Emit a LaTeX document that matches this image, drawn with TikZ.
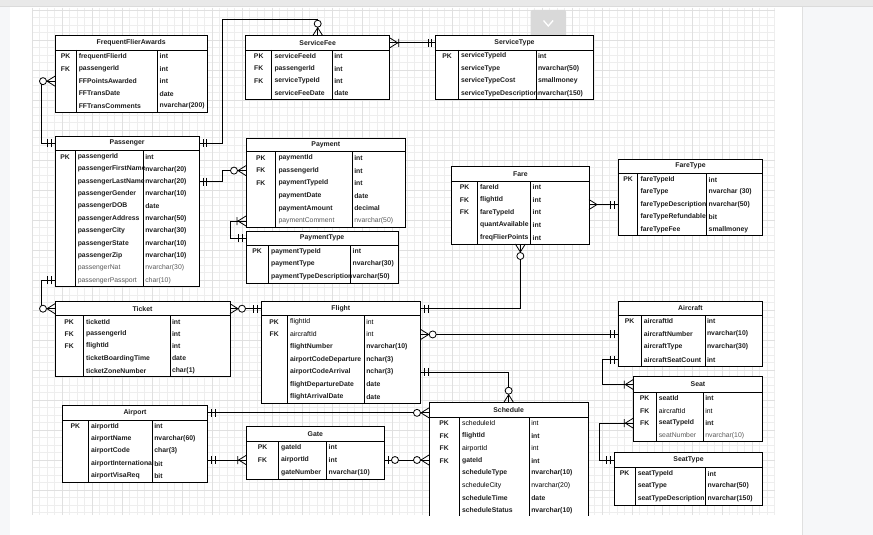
\documentclass[tikz,border=0pt]{standalone}
\usepackage{fontspec}
\setmainfont{Liberation Sans}
\usetikzlibrary{calc}

\definecolor{gridminor}{HTML}{EEEEEE}
\definecolor{gridmajor}{HTML}{E0E0E0}
\definecolor{pagegray}{HTML}{F6F7F9}
\definecolor{topbar}{HTML}{E9E9E9}
\definecolor{txtgray}{HTML}{5A5A5A}
\definecolor{txtdark}{HTML}{1E1E1E}
\definecolor{btngray}{HTML}{D9D9D9}

\tikzset{
  tframe/.style={draw=black, line width=0.8pt, inner sep=0pt, outer sep=0pt, fill=white},
  tline/.style={black, line width=0.8pt},
  hdbox/.style={inner sep=0pt, outer sep=0pt, font=\fontsize{6.9}{8}\selectfont\bfseries, text=txtdark},
  rowbox/.style={inner sep=0pt, outer sep=0pt},
  keytxt/.style={inner sep=0pt, font=\fontsize{6.8}{8}\selectfont\bfseries, text=txtdark},
  fb/.style={inner sep=0pt, anchor=west, font=\fontsize{6.85}{8}\selectfont\bfseries, text=txtdark},
  fr/.style={inner sep=0pt, anchor=west, font=\fontsize{6.85}{8}\selectfont, text=black},
  fg/.style={inner sep=0pt, anchor=west, font=\fontsize{6.85}{8}\selectfont, text=txtgray},
  conn/.style={line width=0.8pt, black},
  mk/.style={line width=0.8pt, black},
  pics/mandone/.style={code={\draw[mk] (4,-4)--(4,4) (7.5,-4)--(7.5,4);}},
  pics/many/.style={code={\draw[mk] (0,-5)--(8,0)--(0,5);}},
  pics/zmany/.style={code={\draw[mk] (0,-5)--(8,0)--(0,5); \draw[mk,fill=white] (12,0) circle[radius=3.5];}},
  pics/omany/.style={code={\draw[mk] (0,-5)--(8,0)--(0,5) (9,-4)--(9,4);}},
  pics/zone/.style={code={\draw[mk] (4,-4)--(4,4); \draw[mk,fill=white] (11,0) circle[radius=3.5];}},
}

% table: name, x, y, width, col1, col2, header height, row height, title ; then rows
\newcommand\ertab[9]{%
  \def\tn{#1}\def\tx{#2}\def\tyy{#3}\def\tw{#4}\def\ca{#5}\def\cb{#6}\def\hh{#7}\def\rh{#8}\def\ttl{#9}\ertabrows}
\newcommand\ertabrows[1]{%
  \foreach \rk/\rf/\rt/\rs [count=\ri] in {#1}{\xdef\nrows{\ri}}%
  \pgfmathsetmacro\tht{\hh+\nrows*\rh}%
  \node[tframe, minimum width=\tw pt, minimum height=\tht pt, anchor=north west] (\tn) at (\tx,\tyy) {};
  \node[hdbox, minimum width=\tw pt, minimum height=\hh pt, anchor=north west] (\tn-h) at (\tx,\tyy) {\ttl};
  \foreach \rk/\rf/\rt/\rs [count=\ri] in {#1}{%
    \node[rowbox, minimum width=\tw pt, minimum height=\rh pt, anchor=north west] (\tn-r\ri) at (\tx, {\tyy+\hh+(\ri-1)*\rh}) {};
    \node[keytxt] at (\tx+\ca/2, {\tyy+\hh+(\ri-0.5)*\rh}) {\rk};
    \node[\rs] at (\tx+\ca+2.6, {\tyy+\hh+(\ri-0.5)*\rh}) {\rf};
    \node[\rs] at (\tx+\cb+1.8, {\tyy+\hh+(\ri-0.5)*\rh}) {\rt};
  }
  \draw[tline] (\tx,\tyy+\hh) -- ++(\tw,0);
  \draw[tline] (\tx+\ca,\tyy+\hh) -- ++(0,\tht-\hh);
  \draw[tline] (\tx+\cb,\tyy+\hh) -- ++(0,\tht-\hh);
  \draw[tline] (\tn.north west) rectangle (\tn.south east);
}

\begin{document}
\begin{tikzpicture}[x=1pt,y=-1pt]
\useasboundingbox (0,0) rectangle (873,535);
% page background
\fill[pagegray] (0,0) rectangle (873,535);
\fill[white] (10,7) rectangle (802,535);
\draw[black!12, line width=0.8pt] (802,7) -- (802,535);
% grid
\foreach \gx in {32,39.5,...,775} \draw[gridminor,line width=0.4pt] (\gx,8) -- (\gx,515);
\foreach \gy in {10,17.5,...,516} \draw[gridminor,line width=0.4pt] (32,\gy) -- (775,\gy);
\foreach \gx in {32,62,...,775} \draw[gridmajor,line width=0.45pt] (\gx,8) -- (\gx,515);
\foreach \gy in {10,40,...,516} \draw[gridmajor,line width=0.45pt] (32,\gy) -- (775,\gy);
\fill[topbar] (0,0) rectangle (873,6);
\draw[black!14, line width=0.6pt] (0,6.3) -- (873,6.3);
% collapse button
\fill[btngray, rounded corners=2pt] (530.6,10) rectangle (566,37.7);
\draw[white, line width=1.3pt] (543.5,20.5) -- (548.3,26) -- (553.1,20.5);

\begin{scope}
\clip (10,7) rectangle (802,515);

\ertab{ffa}{55}{35.7}{152.3}{21}{102.7}{14.3}{12.46}{FrequentFlierAwards}{
  PK/frequentFlierId/int/fb, FK/passengerId/int/fb, {}/FFPointsAwarded/int/fb,
  {}/FFTransDate/date/fb, {}/FFTransComments/nvarchar(200)/fb}

\ertab{sfe}{245.7}{35.7}{144}{26}{86.6}{14.3}{12.4}{ServiceFee}{
  PK/serviceFeeId/int/fb, FK/passengerId/int/fb, FK/serviceTypeId/int/fb,
  {}/serviceFeeDate/date/fb}

\ertab{stp}{435.7}{35.7}{157.6}{22.6}{100.3}{14.3}{12.4}{ServiceType}{
  PK/serviceTypeId/int/fb, {}/serviceType/nvarchar(50)/fb, {}/serviceTypeCost/smallmoney/fb,
  {}/serviceTypeDescription/nvarchar(150)/fb}

\ertab{pas}{55}{136}{144.3}{20}{88.3}{14.7}{12.36}{Passenger}{
  PK/passengerId/int/fb, {}/passengerFirstName/nvarchar(20)/fb, {}/passengerLastName/nvarchar(20)/fb,
  {}/passengerGender/nvarchar(10)/fb, {}/passengerDOB/date/fb, {}/passengerAddress/nvarchar(50)/fb,
  {}/passengerCity/nvarchar(30)/fb, {}/passengerState/nvarchar(10)/fb, {}/passengerZip/nvarchar(10)/fb,
  {}/passengerNat/nvarchar(30)/fg, {}/passengerPassport/char(10)/fg}

\ertab{pay}{246}{138.3}{159.7}{29.7}{106.3}{13.4}{12.6}{Payment}{
  PK/paymentId/int/fb, FK/passengerId/int/fb, FK/paymentTypeId/int/fb,
  {}/paymentDate/date/fb, {}/paymentAmount/decimal/fb, {}/paymentComment/nvarchar(50)/fg}

\ertab{pyt}{246}{231}{152.3}{22.3}{104.7}{14}{12.8}{PaymentType}{
  PK/paymentTypeId/int/fb, {}/paymentType/nvarchar(30)/fb, {}/paymentTypeDescription/varchar(50)/fb}

\ertab{far}{451.7}{166.7}{137.3}{25.6}{79}{14.3}{12.6}{Fare}{
  PK/fareId/int/fb, FK/flightId/int/fb, FK/fareTypeId/int/fb,
  {}/quantAvailable/int/fb, {}/freqFlierPoints/int/fb}

\ertab{ftp}{618.3}{159}{144.4}{19.4}{88.4}{14.3}{12.5}{FareType}{
  PK/fareTypeId/int/fb, {}/fareType/nvarchar (30)/fb, {}/fareTypeDescription/nvarchar(50)/fb,
  {}/fareTypeRefundable/bit/fb, {}/fareTypeFee/smallmoney/fb}

\ertab{tic}{55}{301.7}{175}{28.3}{115}{14}{12.2}{Ticket}{
  PK/ticketId/int/fb, FK/passengerId/int/fb, FK/flightId/int/fb,
  {}/ticketBoardingTime/date/fb, {}/ticketZoneNumber/char(1)/fb}

\ertab{flt}{261}{301.7}{159.7}{26.3}{103.3}{14}{12.5}{Flight}{
  PK/flightId/int/fr, FK/aircraftId/int/fr, {}/flightNumber/nvarchar(10)/fb,
  {}/airportCodeDeparture/nchar(3)/fb, {}/airportCodeArrival/nchar(3)/fb,
  {}/flightDepartureDate/date/fb, {}/flightArrivalDate/date/fb}

\ertab{acf}{618.3}{301}{144.4}{22.7}{86.7}{14}{12.75}{Aircraft}{
  PK/aircraftId/int/fb, {}/aircraftNumber/nvarchar(10)/fb, {}/aircraftType/nvarchar(30)/fb,
  {}/aircraftSeatCount/int/fb}

\ertab{sea}{633.3}{376.7}{129.4}{22.7}{70}{15.6}{12.35}{Seat}{
  PK/seatId/int/fb, FK/aircraftId/int/fr, FK/seatTypeId/int/fb, {}/seatNumber/nvarchar(10)/fg}

\ertab{sty}{614.3}{452.7}{148.4}{20.7}{91.4}{14.6}{12.6}{SeatType}{
  PK/seatTypeId/int/fb, {}/seatType/nvarchar(50)/fb, {}/seatTypeDescription/nvarchar(150)/fb}

\ertab{apt}{62.3}{405.7}{145.4}{26}{90}{14.3}{12.46}{Airport}{
  PK/airportId/int/fb, {}/airportName/nvarchar(60)/fb, {}/airportCode/char(3)/fb,
  {}/airportInternational/bit/fb, {}/airportVisaReq/bit/fb}

\ertab{gat}{246.7}{426.7}{137.3}{31.6}{80}{14.3}{12.67}{Gate}{
  PK/gateId/int/fb, FK/airportId/int/fb, {}/gateNumber/nvarchar(10)/fb}

\ertab{sch}{429}{402.7}{159.3}{30.3}{100.3}{14.6}{12.4}{Schedule}{
  PK/scheduleId/int/fr, FK/flightId/int/fb, FK/airportId/int/fr, FK/gateId/int/fb,
  {}/scheduleType/nvarchar(10)/fb, {}/scheduleCity/nvarchar(20)/fr, {}/scheduleTime/date/fb,
  {}/scheduleStatus/nvarchar(10)/fb}

% connectors
\coordinate (sfjog) at (222.7,19.3);
\draw[conn] (ffa-r3.west) -- ++(-14,0) |- (pas-h.west);
\draw[conn] (pas-r11.west) -- ++(-14,0) |- (tic-h.west);
\draw[conn] (pas-h.east) -| (sfjog) -| (sfe.north);
\draw[conn] (sfe-h.east) -- (stp-h.west);
\draw[conn] (pas-r3.east) -| ($(pas-r3.east)!.5!(pay-r2.west)$) |- (pay-r2.west);
\draw[conn] (pay-r6.west) -- ++(-16,0) |- (pyt-h.west);
\draw[conn] (far.east |- ftp-r3.west) -- (ftp-r3.west);
\draw[conn] (far.south) |- (flt-h.east);
\draw[conn] (tic-h.east) -- (flt-h.west);
\draw[conn] (flt-r2.east) -- (flt-r2.east -| acf.west);
\draw[conn] (flt-r5.east) -| (sch.north);
\draw[conn] (acf-r4.west) -- ++(-15.6,0) |- (sea-h.west);
\draw[conn] (sea-r3.west) -- ++(-34,0) |- (sty-h.west);
\draw[conn] (apt-h.east) -- (apt-h.east -| sch.west);
\draw[conn] (apt.east |- gat-r2.west) -- (gat-r2.west);
\draw[conn] (gat-r2.east) -- (gat-r2.east -| sch.west);

% end markers
\pic[rotate=180] at (ffa-r3.west) {zmany};
\pic[rotate=180] at (pas-h.west) {mandone};
\pic[rotate=180] at (pas-r11.west) {mandone};
\pic[rotate=180] at (tic-h.west) {zmany};
\pic at (pas-h.east) {mandone};
\pic[rotate=90] at (sfe.north) {zmany};
\pic at (sfe-h.east) {omany};
\pic[rotate=180] at (stp-h.west) {mandone};
\pic at (pas-r3.east) {mandone};
\pic[rotate=180] at (pay-r2.west) {zmany};
\pic[rotate=180] at (pay-r6.west) {omany};
\pic[rotate=180] at (pyt-h.west) {mandone};
\pic at (far.east |- ftp-r3.west) {many};
\pic[rotate=180] at (ftp-r3.west) {mandone};
\pic[rotate=-90] at (far.south) {zmany};
\pic at (flt-h.east) {mandone};
\pic at (tic-h.east) {zmany};
\pic[rotate=180] at (flt-h.west) {mandone};
\pic at (flt-r2.east) {zmany};
\pic[rotate=180] at (flt-r2.east -| acf.west) {mandone};
\pic at (flt-r5.east) {mandone};
\pic[rotate=90] at (sch.north) {zmany};
\pic[rotate=180] at (acf-r4.west) {mandone};
\pic[rotate=180] at (sea-h.west) {omany};
\pic[rotate=180] at (sea-r3.west) {omany};
\pic[rotate=180] at (sty-h.west) {mandone};
\pic at (apt-h.east) {mandone};
\pic[rotate=180] at (apt-h.east -| sch.west) {zmany};
\pic at (apt.east |- gat-r2.west) {mandone};
\pic[rotate=180] at (gat-r2.west) {omany};
\pic at (gat-r2.east) {zone};
\pic[rotate=180] at (gat-r2.east -| sch.west) {zmany};
\end{scope}
\end{tikzpicture}
\end{document}
